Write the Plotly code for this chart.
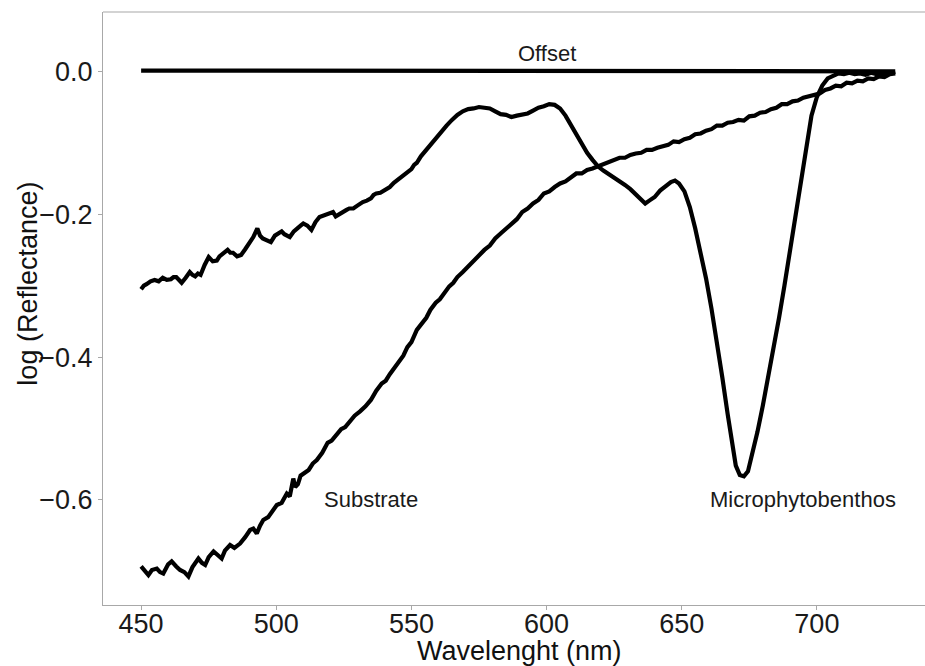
import plotly.graph_objects as go

# ---- data ----
mpb_wl = [450, 451, 452, 453.5, 455, 456.5, 458, 459.5, 461, 462, 463, 464, 465, 466.5, 468, 469,
          470, 471, 472, 473.5, 475, 476.5, 478, 479, 480, 481, 482, 483, 484, 485.5, 487, 488.5,
          490, 491.5, 493, 494, 495, 496.5, 498, 499.5, 501, 502, 503, 504, 505, 506.5, 508, 509,
          510, 511.5, 513, 514.5, 516, 518, 520, 521, 522, 523.5, 525, 526, 527, 528.5, 530, 531,
          532, 533.5, 535, 536, 537, 538.5, 540, 541, 542, 543.5, 545, 546, 547, 548.5, 550, 551,
          552, 553.5, 555, 557, 559, 561, 563, 565, 567, 569, 571, 573, 575, 577, 579, 581, 583,
          585, 587, 589, 591, 593, 595, 597, 599, 601, 603, 605, 607, 609, 611, 613, 615, 617,
          619, 621, 623, 625, 627, 629, 631, 633, 635, 636.5, 638, 640, 642, 644, 646, 647.5, 649,
          651, 653, 655, 657, 659, 661, 663, 665, 667, 668.5, 670, 671.5, 673, 674.5, 676, 678,
          680, 682, 684, 686, 688, 690, 692, 694, 696, 698, 700, 702, 704, 706, 708, 710, 712,
          714, 716, 718, 720, 722, 724, 726, 729]
mpb_val = [-0.305, -0.300, -0.298, -0.294, -0.292, -0.294, -0.289, -0.292, -0.291, -0.288,
           -0.288, -0.292, -0.296, -0.289, -0.281, -0.285, -0.287, -0.283, -0.285, -0.271,
           -0.260, -0.266, -0.265, -0.259, -0.256, -0.253, -0.250, -0.254, -0.254, -0.259,
           -0.257, -0.249, -0.240, -0.232, -0.220, -0.230, -0.234, -0.236, -0.239, -0.230,
           -0.226, -0.224, -0.228, -0.230, -0.232, -0.224, -0.218, -0.216, -0.213, -0.216,
           -0.222, -0.211, -0.204, -0.201, -0.198, -0.197, -0.203, -0.199, -0.196, -0.194,
           -0.192, -0.192, -0.188, -0.185, -0.183, -0.181, -0.178, -0.173, -0.171, -0.170,
           -0.167, -0.164, -0.162, -0.156, -0.152, -0.149, -0.145, -0.141, -0.137, -0.131,
           -0.128, -0.119, -0.112, -0.103, -0.094, -0.086, -0.076, -0.068, -0.061, -0.056,
           -0.053, -0.052, -0.050, -0.051, -0.052, -0.056, -0.060, -0.061, -0.064, -0.062,
           -0.061, -0.059, -0.055, -0.051, -0.049, -0.046, -0.047, -0.052, -0.062, -0.075,
           -0.089, -0.102, -0.114, -0.124, -0.133, -0.139, -0.144, -0.149, -0.153, -0.159,
           -0.165, -0.172, -0.181, -0.185, -0.181, -0.176, -0.167, -0.160, -0.155, -0.153,
           -0.157, -0.168, -0.190, -0.220, -0.255, -0.290, -0.332, -0.378, -0.428, -0.480,
           -0.520, -0.552, -0.565, -0.567, -0.560, -0.538, -0.505, -0.468, -0.428, -0.388,
           -0.345, -0.300, -0.252, -0.200, -0.150, -0.103, -0.062, -0.036, -0.020, -0.010,
           -0.006, -0.003, -0.004, -0.002, -0.004, -0.003, -0.005, -0.002, -0.004, -0.002,
           -0.003, -0.001]

sub_wl = [450, 451.5, 452.7, 454, 455.8, 457, 458.2, 460, 461.3, 463, 464.4, 466, 467.5, 469,
          471.2, 472.5, 473.7, 475, 476.8, 478, 479.8, 481, 482.9, 484.5, 486.6, 488.5, 490.3,
          491.5, 492.8, 494, 495.2, 497, 498.5, 500.2, 502, 503.9, 505, 506.3, 507, 508, 509,
          510, 512, 513.5, 515, 517, 519, 520.5, 522, 524, 525.5, 527, 529, 531, 533, 535, 537,
          539, 540.5, 542, 544, 545.5, 547, 548.5, 550, 552, 554, 555.5, 557, 559, 560.5, 562,
          564, 565.5, 567, 569, 571, 573, 575, 577, 579, 581, 583, 585, 587, 589, 591, 593, 595,
          597, 599, 601, 603, 605, 607, 609, 611, 613, 615, 617, 619, 621, 623, 625, 627, 629,
          631, 633, 635, 637, 639, 641, 643, 645, 647, 649, 651, 653, 655, 657, 659, 661, 663,
          665, 667, 669, 671, 673, 675, 677, 679, 681, 683, 685, 687, 689, 691, 693, 695, 697,
          699, 701, 703, 705, 707, 709, 711, 713, 715, 717, 719, 721, 723, 725, 727, 729]
sub_val = [-0.693, -0.700, -0.705, -0.698, -0.696, -0.701, -0.703, -0.690, -0.686, -0.693,
           -0.698, -0.701, -0.707, -0.694, -0.682, -0.688, -0.691, -0.680, -0.672, -0.676,
           -0.682, -0.671, -0.663, -0.667, -0.661, -0.652, -0.642, -0.640, -0.647, -0.636,
           -0.628, -0.624, -0.616, -0.607, -0.604, -0.591, -0.595, -0.570, -0.582, -0.578,
           -0.566, -0.563, -0.558, -0.549, -0.544, -0.534, -0.520, -0.517, -0.511, -0.501,
           -0.498, -0.491, -0.482, -0.476, -0.469, -0.460, -0.447, -0.437, -0.433, -0.424,
           -0.414, -0.407, -0.398, -0.386, -0.379, -0.362, -0.352, -0.345, -0.334, -0.324,
           -0.319, -0.311, -0.301, -0.296, -0.288, -0.281, -0.273, -0.266, -0.257, -0.250,
           -0.244, -0.234, -0.227, -0.220, -0.213, -0.207, -0.197, -0.192, -0.185, -0.180,
           -0.171, -0.168, -0.162, -0.157, -0.154, -0.148, -0.143, -0.143, -0.138, -0.136,
           -0.133, -0.129, -0.127, -0.124, -0.121, -0.121, -0.117, -0.115, -0.114, -0.110,
           -0.110, -0.107, -0.105, -0.103, -0.098, -0.099, -0.095, -0.093, -0.088, -0.087,
           -0.083, -0.081, -0.076, -0.076, -0.072, -0.071, -0.068, -0.069, -0.063, -0.062,
           -0.058, -0.057, -0.053, -0.051, -0.046, -0.046, -0.042, -0.041, -0.037, -0.035,
           -0.032, -0.031, -0.026, -0.024, -0.020, -0.021, -0.016, -0.017, -0.013, -0.014,
           -0.010, -0.011, -0.007, -0.008, -0.004, -0.003]

off_wl = [450, 465, 480, 500, 530, 560, 590, 620, 650, 680, 700, 710, 720, 729]
off_val = [0.001, 0.001, 0.0, 0.0, 0.0, 0.0, 0.0, 0.0, 0.0, 0.0, 0.001, 0.0, 0.001, 0.0]

x_ticks = [450, 500, 550, 600, 650, 700]
y_ticks = [0.0, -0.2, -0.4, -0.6]

labels = ["Offset", "Substrate", "Microphytobenthos"]
label_x = [600, 535, 695]
label_y = [0.025, -0.6, -0.6]

FONT = "Liberation Sans, Arial, sans-serif"
AXIS_GREY = "#a8a8a8"

fig = go.Figure()
for wl, val in [(off_wl, off_val), (sub_wl, sub_val), (mpb_wl, mpb_val)]:
    fig.add_trace(go.Scatter(x=wl, y=val, mode="lines",
                             line=dict(color="black", width=4.2),
                             showlegend=False, hoverinfo="skip"))

for t, lx, ly in zip(labels, label_x, label_y):
    fig.add_annotation(x=lx, y=ly, text=t, showarrow=False,
                       xanchor="center", yanchor="middle",
                       font=dict(family=FONT, size=22, color="#1a1a1a"))

# axis titles
fig.add_annotation(xref="paper", yref="paper", x=0.507, y=-0.0776, text="Wavelenght (nm)",
                   xanchor="center", yanchor="middle", showarrow=False,
                   font=dict(family=FONT, size=27, color="#111111"))
fig.add_annotation(xref="paper", yref="paper", x=-0.0912, y=0.542, text="log (Reflectance)",
                   textangle=-90, xanchor="center", yanchor="middle", showarrow=False,
                   font=dict(family=FONT, size=27, color="#111111"))

# top border of the panel
fig.add_shape(type="line", xref="paper", yref="paper", x0=0, x1=1, y0=1, y1=1,
              line=dict(color=AXIS_GREY, width=1.2))

fig.update_layout(
    width=925, height=666, autosize=False,
    margin=dict(l=103, r=0, t=12, b=61),
    paper_bgcolor="white", plot_bgcolor="white",
    font=dict(family=FONT),
    xaxis=dict(range=[435.9, 740], tickvals=x_ticks, showgrid=False, zeroline=False,
               showline=True, linecolor=AXIS_GREY, linewidth=1.2,
               ticks="outside", ticklen=4, tickcolor=AXIS_GREY, tickwidth=1.2,
               ticklabelstandoff=-10,
               tickfont=dict(family=FONT, size=27, color="#1a1a1a")),
    yaxis=dict(range=[-0.747, 0.083], tickvals=y_ticks, tickformat=".1f",
               showgrid=False, zeroline=False,
               showline=True, linecolor=AXIS_GREY, linewidth=1.2,
               ticks="outside", ticklen=4, tickcolor=AXIS_GREY, tickwidth=1.2,
               tickfont=dict(family=FONT, size=27, color="#1a1a1a")),
)

fig.write_html(
    "out.html",
    config={"displayModeBar": False},
    post_script="document.body.style.margin='0';document.body.style.overflow='hidden';",
)
